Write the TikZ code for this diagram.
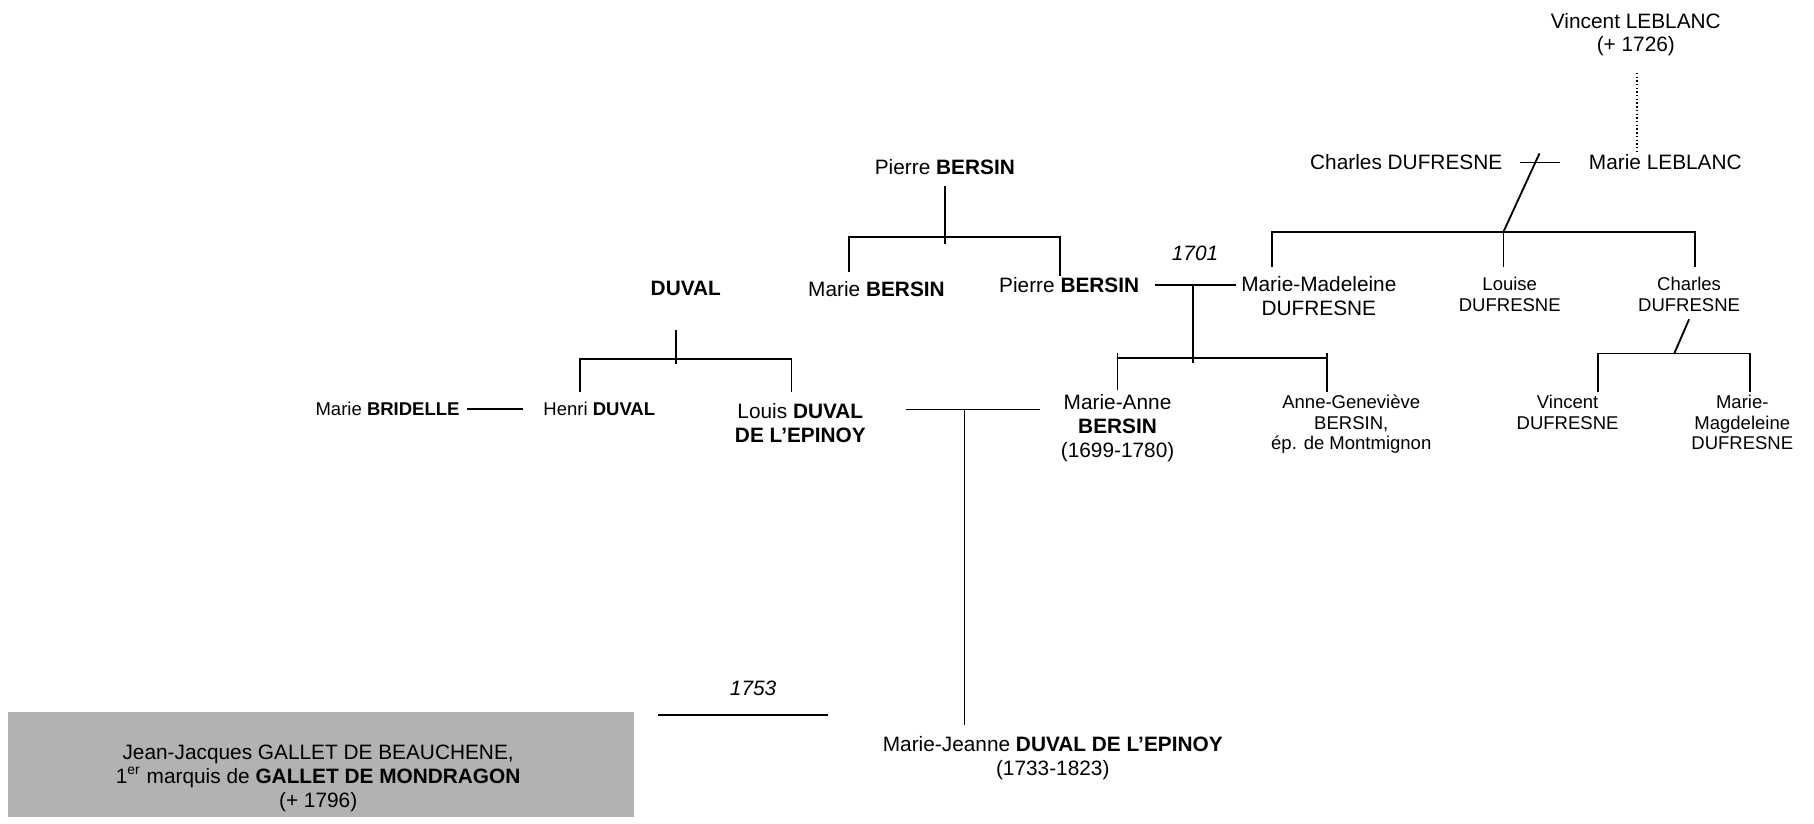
\documentclass[tikz,border=0pt]{standalone}
\usepackage{fontspec}
\setmainfont{Liberation Sans}
\tikzset{
  person/.style={anchor=north, align=center, inner sep=1pt, font=\fontsize{9}{10.3}\selectfont},
  minor/.style={person, font=\fontsize{8}{8.8}\selectfont},
  year/.style={font=\fontsize{9}{10.3}\selectfont\itshape},
  link/.style={line width=0.8pt},
}
\begin{document}
\begin{tikzpicture}[x=0.5pt, y=-0.5pt]
    \useasboundingbox (0,0) rectangle (1568,711.4);

    % Leblanc and Dufresne
    \node[person] (vleblanc) at (1414,8.8) {Vincent LEBLANC\\(+ 1726)};
    \node[person] (cdufresne) at (1215.5,131.5) {Charles DUFRESNE};
    \node[person] (mleblanc) at (1439.5,131.5) {Marie LEBLANC};
    \coordinate (vlb) at (1415,63);
    \draw[densely dotted, line width=0.6pt] (vlb) -- (vlb |- mleblanc.north);
    \draw[link, shorten <=6.5pt, shorten >=11.5pt] (cdufresne) -- (mleblanc);

    % their children
    \node[person] (mmad) at (1140,236.5) {Marie-Madeleine\\DUFRESNE};
    \node[minor] (louise) at (1305,237.25) {Louise\\DUFRESNE};
    \node[minor] (cdufresne2) at (1460,237.25) {Charles\\DUFRESNE};
    \coordinate (dlk) at (1299.6,200.3);
    \coordinate (dll) at (1099.4,200.3);
    \coordinate (dlr) at (1465,200.3);
    \draw[link] (dlk) -- ++(31.1,-67.7);
    \draw[link, shorten <=3pt, shorten >=3.4pt] (dll |- mmad.north) -- (dll) -- (dlr) -- (dlr |- cdufresne2.north);
    \draw[link, shorten >=3.4pt] (dlk) -- (dlk |- louise.north);

    % children of Charles
    \node[minor] (vdufresne) at (1355,339.25) {Vincent\\DUFRESNE};
    \node[minor] (mmagd) at (1506,339.25) {Marie-\\Magdeleine\\DUFRESNE};
    \coordinate (cdk) at (1447,306);
    \coordinate (cdl) at (1381,305.5);
    \coordinate (cdr) at (1513,305.5);
    \draw[link] (cdk) -- ++(13,-30);
    \draw[link] (cdl |- vdufresne.north) -- (cdl) -- (cdr) -- (cdr |- mmagd.north);

    % Bersin
    \node[person] (pbersin) at (816.7,135.5) {Pierre \textbf{BERSIN}};
    \node[person] (mbersin) at (757.6,240.5) {Marie \textbf{BERSIN}};
    \node[person] (pbersin2) at (924.2,237.5) {Pierre \textbf{BERSIN}};
    \coordinate (pbl) at (733.6,205);
    \coordinate (pbr) at (916.6,205);
    \draw[link, shorten <=3.6pt] (pbersin.south) -- ++(0,57.7);
    \draw[link, shorten <=2.9pt] (pbl |- mbersin.north) -- (pbl) -- (pbr) -- ++(0,34);

    % Bersin - Dufresne, 1701
    \node[year] (y1701) at (1033,219) {1701};
    \draw[link, shorten <=5.6pt, shorten >=1pt] (pbersin2.east) -- coordinate[pos=0.53] (bdm) (pbersin2.east -| mmad.west);
    \node[person] (manne) at (966,338.5) {Marie-Anne\\\textbf{BERSIN}\\(1699-1780)};
    \node[minor] (agenev) at (1168,339.25) {Anne-Geneviève\\BERSIN,\\ép. de Montmignon};
    \coordinate (bml) at (966,309.4);
    \coordinate (bmr) at (1147,309.4);
    \draw[link] (bdm) -- ++(0,67.5);
    \draw[link] (bml) -- (bmr);
    \draw[link, shorten >=0.7pt] (bml) ++(0,-4) -- (bml |- manne.north);
    \draw[link] (bmr) ++(0,-4) -- (bmr |- agenev.north);

    % Duval
    \node[person] (duval) at (592.8,240.5) {\textbf{DUVAL}};
    \node[minor] (bridelle) at (335,345.25) {Marie \textbf{BRIDELLE}};
    \node[minor] (hduval) at (518,345.25) {Henri \textbf{DUVAL}};
    \node[person] (lduval) at (691.8,346.5) {Louis \textbf{DUVAL}\\\textbf{DE L'EPINOY}};
    \coordinate (dvk) at (584.2,310);
    \coordinate (dvl) at (501.3,310);
    \coordinate (dvr) at (684.2,310);
    \draw[link] (dvk) ++(0,-25) -- ++(0,30);
    \draw[link, shorten <=3.1pt, shorten >=3.75pt] (dvl |- hduval.north) -- (dvl) -- (dvr) -- (dvr |- lduval.north);
    \draw[link, shorten <=2pt, shorten >=7.8pt] (bridelle) -- (hduval);

    % Duval - Bersin
    \node[person] (mjeanne) at (910,634) {Marie-Jeanne \textbf{DUVAL DE L'EPINOY}\\(1733-1823)};
    \coordinate (dbm) at (833.7,354);
    \draw[link, shorten <=16.2pt, shorten >=8pt] (dbm -| lduval.east) -- (dbm -| manne.west);
    \draw[link, shorten >=3.7pt] (dbm) -- (dbm |- mjeanne.north);

    % Gallet, 1753
    \node[fill=black!30, minimum width=270.7pt, minimum height=45.5pt, inner sep=0pt, anchor=north west] (gbox) at (6.6,615) {};
    \node[person] (gallet) at (275,641.5) {Jean-Jacques GALLET DE BEAUCHENE,\\1\textsuperscript{er} marquis de \textbf{GALLET DE MONDRAGON}\\(+ 1796)};
    \node[year] (y1753) at (651,595) {1753};
    \coordinate (gm) at (716,618);
    \draw[link, shorten <=10pt] (gbox.east |- gm) -- (gm);
\end{tikzpicture}
\end{document}
